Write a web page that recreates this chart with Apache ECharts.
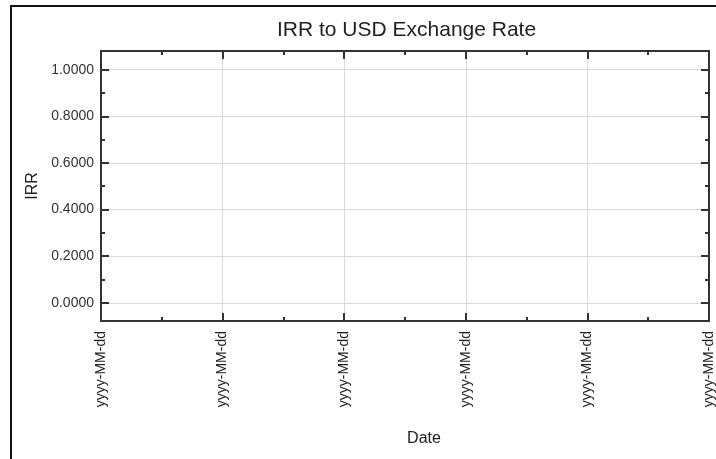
<!DOCTYPE html>
<html>
<head>
<meta charset="utf-8">
<script src="https://cdn.jsdelivr.net/npm/echarts@6/dist/echarts.min.js"></script>
<style>
html,body{margin:0;padding:0;background:#fff;}
#chart{width:716px;height:459px;}
</style>
</head>
<body>
<div id="chart"></div>
<script>
// Tick labels along the date axis (the source shows the unformatted pattern)
const dateLabels = ['yyyy-MM-dd','yyyy-MM-dd','yyyy-MM-dd','yyyy-MM-dd','yyyy-MM-dd','yyyy-MM-dd'];
// Series values (the reference chart has no data plotted)
const rateValues = [];
const yRange = [-0.078, 1.08];

const FONT = '"Liberation Sans", Arial, sans-serif';
const axisColor = '#333333';
const gridColor = '#d9d9d9';

const chart = echarts.init(document.getElementById('chart'), null, {renderer: 'canvas'});

const commonAxisLine = {show: true, onZero: false, lineStyle: {color: axisColor, width: 2}};
const tickStyle = {show: true, inside: true, length: 8, lineStyle: {color: axisColor, width: 2}};
const minorStyle = {show: true, splitNumber: 2, length: 4, lineStyle: {color: axisColor, width: 2}};
const yLabelFmt = v => {
  const k = v / 0.2;
  return Math.abs(k - Math.round(k)) < 1e-6 ? v.toFixed(4) : '';
};

chart.setOption({
  animation: false,
  backgroundColor: '#ffffff',
  title: {
    text: 'IRR to USD Exchange Rate',
    left: 277,
    top: 20,
    padding: 0,
    textStyle: {fontFamily: FONT, fontSize: 21, fontWeight: 'normal', color: '#222222'}
  },
  graphic: [{
    type: 'rect',
    shape: {x: 11, y: 6, width: 730, height: 480},
    style: {fill: 'none', stroke: '#111111', lineWidth: 2},
    silent: true
  }],
  grid: {left: 101, top: 51, right: 4, bottom: 138, containLabel: false},
  xAxis: [{
    type: 'value',
    position: 'bottom',
    min: 0, max: dateLabels.length - 1, interval: 1,
    name: 'Date',
    nameLocation: 'middle',
    nameGap: 110,
    nameTextStyle: {fontFamily: FONT, fontSize: 16, color: '#222222', padding: [0, 0, 0, 38]},
    axisLine: commonAxisLine,
    axisTick: tickStyle,
    minorTick: minorStyle,
    splitLine: {show: true, lineStyle: {color: gridColor, width: 1}},
    axisLabel: {
      rotate: 90, margin: 10,
      fontFamily: FONT, fontSize: 14, color: '#222222',
      formatter: v => dateLabels[Math.round(v)] || ''
    }
  }, {
    type: 'value',
    position: 'top',
    min: 0, max: dateLabels.length - 1, interval: 1,
    axisLine: commonAxisLine,
    axisTick: tickStyle,
    minorTick: minorStyle,
    splitLine: {show: false},
    axisLabel: {show: false}
  }],
  yAxis: [{
    type: 'value',
    position: 'left',
    min: yRange[0], max: yRange[1], splitNumber: 5,
    name: 'IRR',
    nameLocation: 'middle',
    nameGap: 60,
    nameTextStyle: {fontFamily: FONT, fontSize: 16, color: '#222222'},
    axisLine: commonAxisLine,
    axisTick: tickStyle,
    minorTick: minorStyle,
    splitLine: {show: true, lineStyle: {color: gridColor, width: 1}},
    axisLabel: {
      margin: 7, showMinLabel: false, showMaxLabel: false,
      fontFamily: FONT, fontSize: 14, color: '#333333',
      formatter: yLabelFmt
    }
  }, {
    type: 'value',
    position: 'right',
    min: yRange[0], max: yRange[1], splitNumber: 5,
    axisLine: commonAxisLine,
    axisTick: tickStyle,
    minorTick: minorStyle,
    splitLine: {show: false},
    axisLabel: {show: false}
  }],
  series: [{
    type: 'line',
    name: 'IRR',
    xAxisIndex: 0,
    yAxisIndex: 0,
    data: rateValues,
    showSymbol: false,
    lineStyle: {color: '#1f3a93', width: 1.5}
  }]
});
</script>
</body>
</html>
